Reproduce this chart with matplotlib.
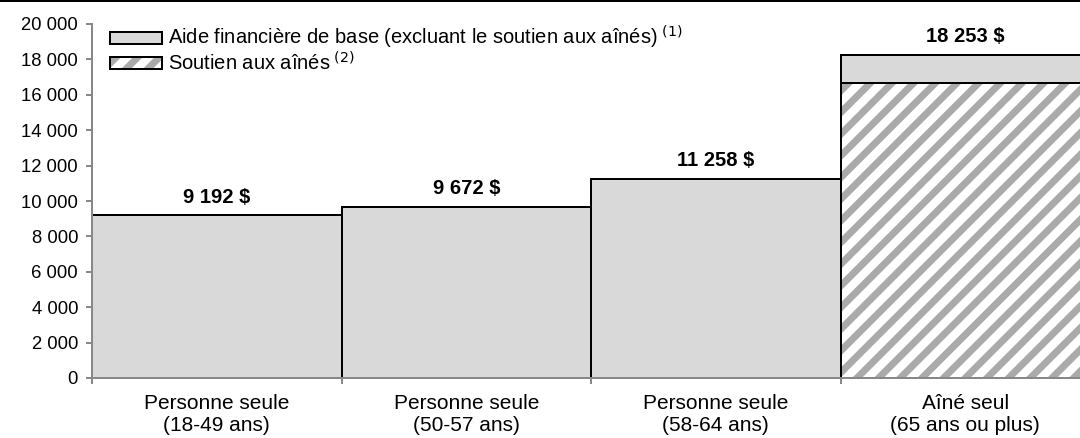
import matplotlib.pyplot as plt
import matplotlib.lines as mlines
import numpy as np

DPI = 130
PX = 72 / DPI   # points per pixel
FS = 100 / DPI  # font sizes were tuned at 100 dpi

plt.rcParams['font.family'] = ['Liberation Sans', 'DejaVu Sans']
plt.rcParams['hatch.linewidth'] = 7 * PX

categories = ['Personne seule\n(18-49 ans)', 'Personne seule\n(50-57 ans)',
              'Personne seule\n(58-64 ans)', 'Aîné seul\n(65 ans ou plus)']
soutien_aines = [0, 0, 0, 16680]
totaux = [9192, 9672, 11258, 18253]
aide_base = [t - s for t, s in zip(totaux, soutien_aines)]
etiquettes = ['9 192 $', '9 672 $', '11 258 $', '18 253 $']

fig = plt.figure(figsize=(1080 / DPI, 438 / DPI), dpi=DPI)
ax = fig.add_axes([92 / 1080, 60 / 438, 998 / 1080, 354 / 438])

x = np.arange(len(categories))
# hatched part: grey stripes on white, outline drawn separately in black
h_fill = ax.bar(x, soutien_aines, width=1.0, color='white',
                edgecolor='#aaaaaa', linewidth=0, hatch='//')
h_edge = ax.bar(x, soutien_aines, width=1.0, fill=False, edgecolor='black',
                linewidth=2 * PX)
h_base = ax.bar(x, aide_base, width=1.0, bottom=soutien_aines, color='#d9d9d9',
                edgecolor='black', linewidth=2 * PX)

for xi, t, lab in zip(x, totaux, etiquettes):
    ax.text(xi, t + 480, lab, ha='center', va='bottom', fontsize=14.5 * FS,
            fontweight='bold')

ax.set_xlim(-0.5, 3.5)
ax.set_ylim(0, 20000)
ax.set_yticks(np.arange(0, 20001, 2000))
ax.set_yticklabels([f'{v:,}'.replace(',', ' ') for v in range(0, 20001, 2000)])
ax.set_xticks(x)
ax.set_xticklabels(categories)
ax.set_xticks(np.arange(-0.5, 4, 1), minor=True)
ax.tick_params(axis='x', which='major', length=0, pad=16 * PX,
               labelsize=15 * FS)
ax.tick_params(axis='x', which='minor', length=6 * PX, color='#888888',
               width=2 * PX)
ax.tick_params(axis='y', length=6 * PX, color='#888888', width=2 * PX,
               labelsize=13.3 * FS, pad=8 * PX)

for s in ['top', 'right']:
    ax.spines[s].set_visible(False)
for s in ['left', 'bottom']:
    ax.spines[s].set_color('#888888')
    ax.spines[s].set_linewidth(2 * PX)

ax.legend([h_base[3], (h_fill[3], h_edge[3])],
          ['Aide financière de base (excluant le soutien aux aînés)$^{\\ (1)}$',
           'Soutien aux aînés$^{\\ (2)}$'],
          loc='upper left', bbox_to_anchor=(0.018, 1.0), frameon=False,
          fontsize=14.5 * FS, handlelength=2.6, handleheight=0.55,
          handletextpad=0.3, labelspacing=0.0, borderaxespad=0,
          borderpad=0)

fig.add_artist(mlines.Line2D([0, 1], [1 - 1 / 438, 1 - 1 / 438], color='black',
                             linewidth=2 * PX, transform=fig.transFigure))

fig.savefig('out.png', dpi=DPI)
